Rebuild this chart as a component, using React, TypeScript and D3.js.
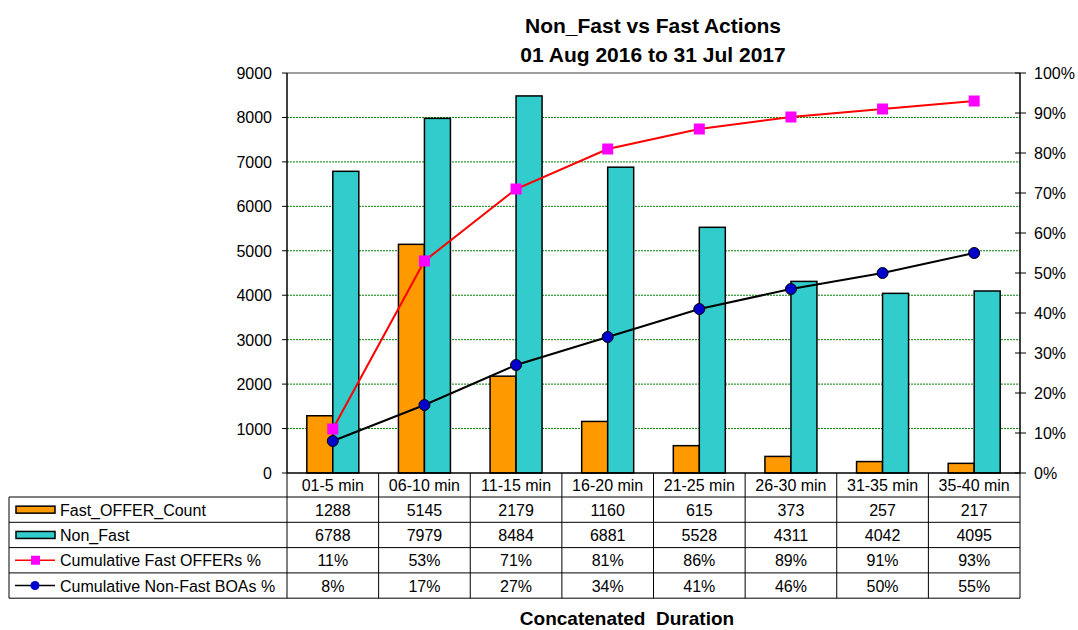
import * as d3 from "d3";

const categories = ["01-5 min", "06-10 min", "11-15 min", "16-20 min", "21-25 min", "26-30 min", "31-35 min", "35-40 min"];
const fastOffer = [1288, 5145, 2179, 1160, 615, 373, 257, 217];
const nonFast = [6788, 7979, 8484, 6881, 5528, 4311, 4042, 4095];
const cumFastPct = [11, 53, 71, 81, 86, 89, 91, 93];
const cumNonFastPct = [8, 17, 27, 34, 41, 46, 50, 55];
const leftTicks = [0, 1000, 2000, 3000, 4000, 5000, 6000, 7000, 8000, 9000];
const rightTicks = [0, 10, 20, 30, 40, 50, 60, 70, 80, 90, 100];

const W = 1078;
const H = 630;
const plot = { left: 287, right: 1020, top: 73, bottom: 473 };
const tableLeft = 9;
const rowH = 25.3;
const font = "'Liberation Sans', Arial, sans-serif";

export default function App() {
  const x = d3.scaleBand<string>().domain(categories).range([plot.left, plot.right]);
  const y = d3.scaleLinear().domain([0, 9000]).range([plot.bottom, plot.top]);
  const y2 = d3.scaleLinear().domain([0, 100]).range([plot.bottom, plot.top]);
  const bw = 26;
  const cx = (c: string) => (x(c) ?? 0) + x.bandwidth() / 2;

  const pctLine = d3.line<number>().x((_, i) => cx(categories[i])).y((d) => y2(d));

  const rows = [
    { label: "Fast_OFFER_Count", values: fastOffer.map(String), kind: "bar", fill: "#FF9900" },
    { label: "Non_Fast", values: nonFast.map(String), kind: "bar", fill: "#33CCCC" },
    { label: "Cumulative Fast OFFERs %", values: cumFastPct.map((v) => v + "%"), kind: "sq", fill: "#FF00FF" },
    { label: "Cumulative Non-Fast BOAs %", values: cumNonFastPct.map((v) => v + "%"), kind: "dot", fill: "#0000CC" },
  ];
  const headerBottom = plot.bottom + 24;
  const tableBottom = headerBottom + rowH * rows.length;
  const fs = 16;

  return (
    <svg width={W} height={H} style={{ display: "block", position: "absolute", left: 0, top: 0, background: "#fff" }} fontFamily={font}>
      <rect width={W} height={H} fill="#fff" />
      <text x={653} y={33} textAnchor="middle" fontSize={21} fontWeight="bold">Non_Fast vs Fast Actions</text>
      <text x={653} y={62} textAnchor="middle" fontSize={21} fontWeight="bold">01 Aug 2016 to 31 Jul 2017</text>

      {/* gridlines */}
      {leftTicks.slice(1, -1).map((t) => (
        <line key={t} x1={plot.left} x2={plot.right} y1={y(t)} y2={y(t)} stroke="#008000" strokeDasharray="2,1" strokeWidth={1} />
      ))}
      <line x1={plot.left} x2={plot.right} y1={plot.top} y2={plot.top} stroke="#808080" strokeWidth={1.5} />

      {/* bars */}
      {categories.map((c, i) => (
        <g key={c}>
          <rect x={cx(c) - bw} y={y(fastOffer[i])} width={bw} height={plot.bottom - y(fastOffer[i])} fill="#FF9900" stroke="#000" strokeWidth={1.5} />
          <rect x={cx(c)} y={y(nonFast[i])} width={bw} height={plot.bottom - y(nonFast[i])} fill="#33CCCC" stroke="#000" strokeWidth={1.5} />
        </g>
      ))}

      {/* lines */}
      <path d={pctLine(cumFastPct) ?? ""} fill="none" stroke="#FF0000" strokeWidth={2} />
      <path d={pctLine(cumNonFastPct) ?? ""} fill="none" stroke="#000" strokeWidth={2} />
      {cumFastPct.map((v, i) => (
        <rect key={"s" + i} x={cx(categories[i]) - 5.5} y={y2(v) - 5.5} width={11} height={11} fill="#FF00FF" />
      ))}
      {cumNonFastPct.map((v, i) => (
        <circle key={"c" + i} cx={cx(categories[i])} cy={y2(v)} r={5.5} fill="#0000CC" stroke="#000" strokeWidth={1} />
      ))}

      {/* left axis */}
      <line x1={plot.left} x2={plot.left} y1={plot.top} y2={plot.bottom} stroke="#000" strokeWidth={1.5} />
      {leftTicks.map((t) => (
        <g key={t}>
          <line x1={plot.left - 5} x2={plot.left} y1={y(t)} y2={y(t)} stroke="#000" />
          <text x={272} y={y(t) + 6} textAnchor="end" fontSize={fs}>{t}</text>
        </g>
      ))}

      {/* right axis */}
      <line x1={plot.right} x2={plot.right} y1={plot.top} y2={plot.bottom} stroke="#000" strokeWidth={1.5} />
      {rightTicks.map((t) => (
        <g key={t}>
          <line x1={plot.right - 5} x2={plot.right + 6} y1={y2(t)} y2={y2(t)} stroke="#000" />
          <text x={1034} y={y2(t) + 6} textAnchor="start" fontSize={fs}>{t + "%"}</text>
        </g>
      ))}
      <line x1={plot.left} x2={plot.right} y1={plot.bottom} y2={plot.bottom} stroke="#000" strokeWidth={1.5} />

      {/* data table */}
      {categories.map((c) => (
        <text key={"h" + c} x={cx(c)} y={plot.bottom + 18} textAnchor="middle" fontSize={fs}>{c}</text>
      ))}
      {d3.range(categories.length + 1).map((i) => {
        const xx = plot.left + i * x.bandwidth();
        return <line key={"v" + i} x1={xx} x2={xx} y1={plot.bottom} y2={tableBottom} stroke="#000" strokeWidth={1} />;
      })}
      <line x1={tableLeft} x2={tableLeft} y1={headerBottom} y2={tableBottom} stroke="#000" />
      {d3.range(rows.length + 1).map((r) => (
        <line key={"hr" + r} x1={tableLeft} x2={plot.right} y1={headerBottom + r * rowH} y2={headerBottom + r * rowH} stroke="#000" />
      ))}
      {rows.map((row, r) => {
        const yy = headerBottom + r * rowH;
        const my = yy + rowH / 2;
        return (
          <g key={row.label}>
            {row.kind === "bar" ? (
              <rect x={16} y={my - 3.5} width={39} height={7} fill={row.fill} stroke="#000" strokeWidth={1.5} />
            ) : (
              <g>
                <line x1={15} x2={55} y1={my} y2={my} stroke={row.kind === "sq" ? "#FF0000" : "#000"} strokeWidth={1.5} />
                {row.kind === "sq" ? (
                  <rect x={31} y={my - 4.5} width={9} height={9} fill={row.fill} />
                ) : (
                  <circle cx={35} cy={my} r={4.5} fill={row.fill} />
                )}
              </g>
            )}
            <text x={60} y={my + 6} fontSize={fs}>{row.label}</text>
            {row.values.map((v, i) => (
              <text key={i} x={cx(categories[i])} y={my + 6} textAnchor="middle" fontSize={fs}>{v}</text>
            ))}
          </g>
        );
      })}

      <text x={627} y={625} textAnchor="middle" fontSize={19} fontWeight="bold" style={{ whiteSpace: "pre" }}>Concatenated  Duration</text>
    </svg>
  );
}
